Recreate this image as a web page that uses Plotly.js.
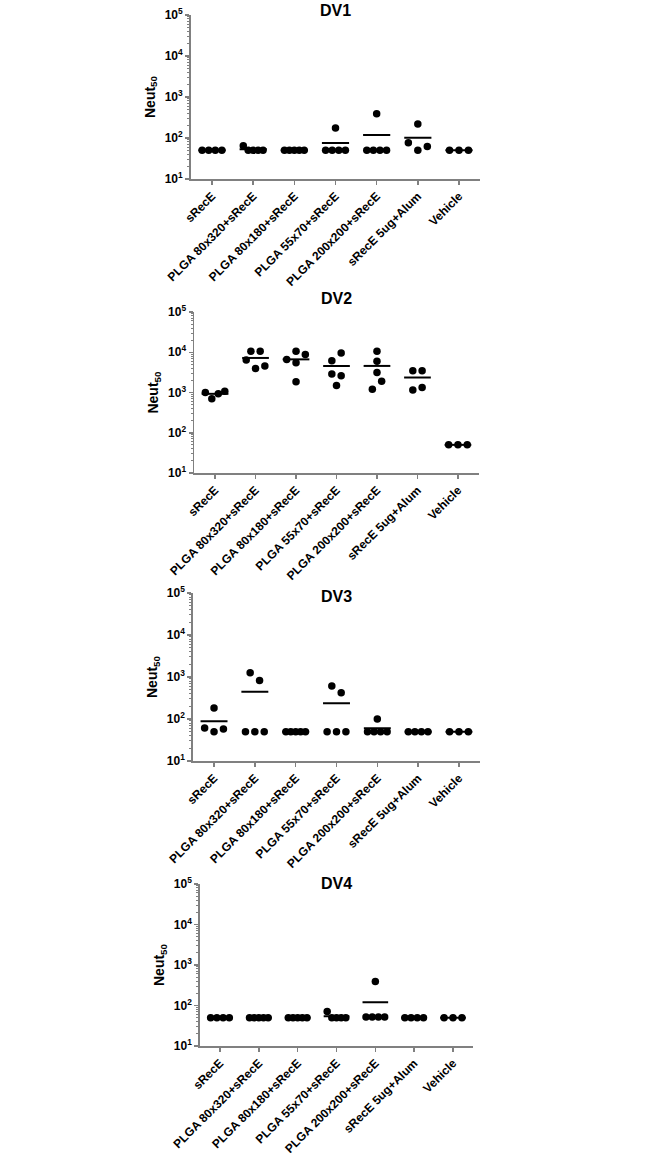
<!DOCTYPE html>
<html>
<head>
<meta charset="utf-8">
<script src="https://cdn.plot.ly/plotly-3.0.1.min.js"></script>
<style>
  html, body { margin: 0; padding: 0; background: #fff; }
  #chart { width: 645px; height: 1153px; }
</style>
</head>
<body>
<div id="chart"></div>
<script>
// groups on the x axis
var groups = ['sRecE', 'PLGA 80x320+sRecE', 'PLGA 80x180+sRecE', 'PLGA 55x70+sRecE',
  'PLGA 200x200+sRecE', 'sRecE 5ug+Alum', 'Vehicle'];

// Neut50 per animal, one list per group
var dv1 = [
  [50, 50, 50, 50],
  [65, 50, 50, 50, 50],
  [50, 50, 50, 50, 50],
  [175, 50, 50, 50, 50],
  [390, 50, 50, 50, 50],
  [77, 50, 219, 62],
  [50, 50, 50]
];
var dv2 = [
  [1000, 700, 927, 1080],
  [10600, 10600, 6400, 3960, 4530],
  [6600, 10600, 8770, 5470, 1860],
  [6120, 9640, 2880, 2620, 1490],
  [10600, 6010, 3160, 1200, 1900],
  [3470, 3470, 1160, 1330],
  [50, 50, 50]
];
var dv3 = [
  [184, 61, 50, 58],
  [1270, 820, 50, 50, 50],
  [50, 50, 50, 50, 50],
  [608, 421, 50, 50, 50],
  [100, 50, 50, 50, 50],
  [50, 50, 50, 50],
  [50, 50, 50]
];
var dv4 = [
  [50, 50, 50, 50],
  [50, 50, 50, 50, 50],
  [50, 50, 50, 50, 50],
  [71, 50, 50, 50, 50],
  [390, 52, 52, 52, 52],
  [50, 50, 50, 50],
  [50, 50, 50]
];

var yTickVals = [10, 100, 1000, 10000, 100000];
var yTickText = ['10<sup>1</sup>', '10<sup>2</sup>', '10<sup>3</sup>', '10<sup>4</sup>', '10<sup>5</sup>'];

var W = 645, H = 1153;
var axisGrey = '#808080';
var fontFam = 'Liberation Sans, Arial, sans-serif';

// pixel boxes of the four plot areas
var panels = [
  {name: 'DV1', data: dv1, x0: 190.6, x1: 480.4, top: 15, bottom: 179, titleY: 10},
  {name: 'DV2', data: dv2, x0: 194, x1: 479, top: 312, bottom: 473, titleY: 299},
  {name: 'DV3', data: dv3, x0: 192.8, x1: 480.2, top: 593, bottom: 761, titleY: 596},
  {name: 'DV4', data: dv4, x0: 199.8, x1: 473.2, top: 884, bottom: 1046, titleY: 883}
];

// spread points that would overlap side by side, like a column scatter
function spread(vals) {
  var order = vals.map(function(v, i) { return i; })
    .sort(function(a, b) { return vals[b] - vals[a]; });
  var rows = [], cur = null;
  order.forEach(function(i) {
    if (cur && Math.log10(vals[cur.anchor]) - Math.log10(vals[i]) <= 0.21) cur.idx.push(i);
    else { cur = {anchor: i, idx: [i]}; rows.push(cur); }
  });
  var off = vals.map(function() { return 0; });
  rows.forEach(function(r) {
    r.idx.sort(function(a, b) { return a - b; });
    var n = r.idx.length;
    var s = n > 1 ? Math.min(0.23, 0.48 / (n - 1)) : 0;
    r.idx.forEach(function(i, k) { off[i] = (k - (n - 1) / 2) * s; });
  });
  return off;
}

function mean(a) {
  return a.reduce(function(s, v) { return s + v; }, 0) / a.length;
}

var minorVals = [];
for (var d = 1; d < 5; d++) {
  for (var k = 2; k <= 9; k++) minorVals.push(k * Math.pow(10, d));
}

var traces = [];
var layout = {
  width: W, height: H,
  margin: {l: 0, r: 0, t: 0, b: 0},
  paper_bgcolor: 'white', plot_bgcolor: 'white',
  showlegend: false,
  font: {family: fontFam, color: '#000'},
  annotations: []
};

panels.forEach(function(p, n) {
  var sfx = n === 0 ? '' : String(n + 1);
  var xs = [], ys = [], mx = [], my = [];
  p.data.forEach(function(vals, g) {
    var off = spread(vals);
    vals.forEach(function(v, i) { xs.push(g + off[i]); ys.push(v); });
    var m = mean(vals);
    mx.push(g - 0.33, g + 0.33, null);
    my.push(m, m, null);
  });

  traces.push({
    x: mx, y: my, xaxis: 'x' + sfx, yaxis: 'y' + sfx,
    mode: 'lines', line: {color: '#000', width: 2}, hoverinfo: 'skip'
  });
  traces.push({
    x: xs, y: ys, xaxis: 'x' + sfx, yaxis: 'y' + sfx,
    mode: 'markers', marker: {color: '#000', size: 7.5},
    hovertemplate: '%{y}<extra></extra>'
  });

  layout['xaxis' + sfx] = {
    domain: [p.x0 / W, p.x1 / W],
    anchor: 'y' + sfx,
    range: [-0.52, 6.52],
    tickmode: 'array', tickvals: [0, 1, 2, 3, 4, 5, 6], ticktext: groups,
    tickangle: -45,
    ticks: 'outside', ticklen: 4, tickwidth: 1.5, tickcolor: axisGrey,
    showline: true, linecolor: axisGrey, linewidth: 1.5,
    showgrid: false, zeroline: false,
    tickfont: {family: fontFam, size: 12, color: '#000', weight: 'bold'}
  };
  layout['yaxis' + sfx] = {
    domain: [1 - p.bottom / H, 1 - p.top / H],
    anchor: 'x' + sfx,
    type: 'log', range: [1, 5],
    tickmode: 'array', tickvals: yTickVals, ticktext: yTickText,
    ticks: 'outside', ticklen: 4, tickwidth: 1.5, tickcolor: axisGrey,
    minor: {tickmode: 'array', tickvals: minorVals, ticks: 'outside', ticklen: 2, tickwidth: 1, tickcolor: axisGrey, showgrid: false},
    showline: true, linecolor: axisGrey, linewidth: 1.5,
    showgrid: false, zeroline: false,
    tickfont: {family: fontFam, size: 12, color: '#000', weight: 'bold'},
    title: {text: 'Neut<sub>50</sub>', standoff: 6,
      font: {family: fontFam, size: 14, color: '#000', weight: 'bold'}}
  };
  layout.annotations.push({
    text: p.name, xref: 'paper', yref: 'paper',
    x: (p.x0 + p.x1) / 2 / W, y: 1 - p.titleY / H,
    xanchor: 'center', yanchor: 'middle', showarrow: false,
    font: {family: fontFam, size: 16, color: '#000', weight: 'bold'}
  });
});

Plotly.newPlot('chart', traces, layout, {displayModeBar: false, staticPlot: true});
</script>
</body>
</html>
